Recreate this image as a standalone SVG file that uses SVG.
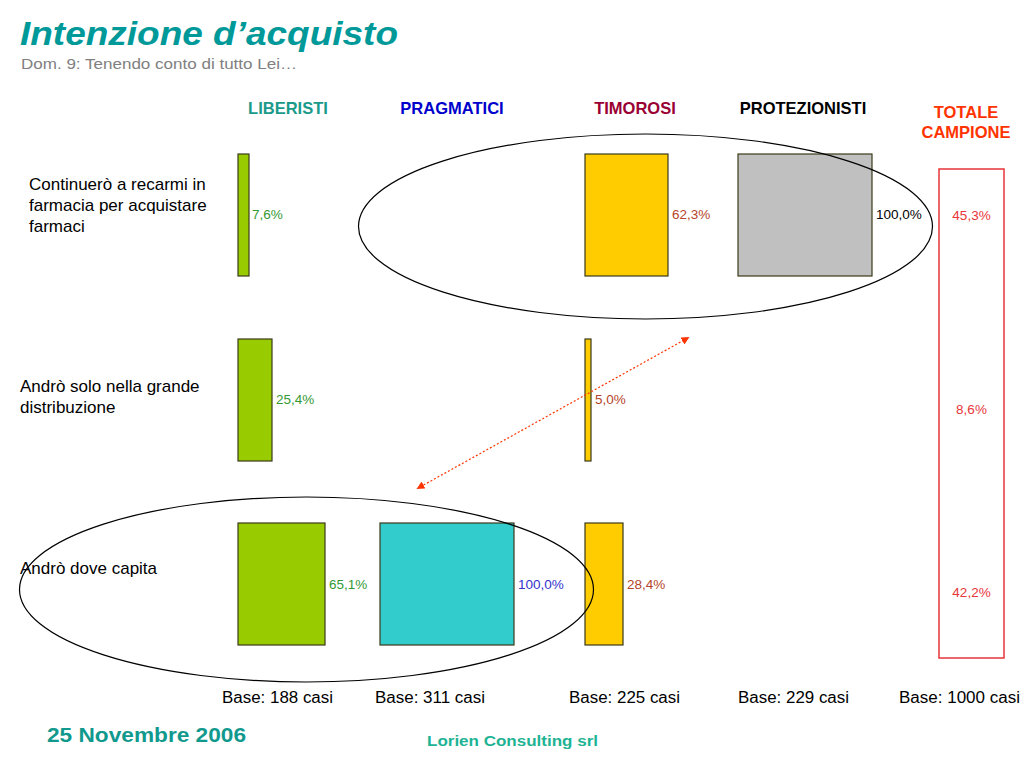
<svg xmlns="http://www.w3.org/2000/svg" width="1024" height="768" viewBox="0 0 1024 768">
<style>
text{font-family:"Liberation Sans",Arial,sans-serif}
.bar{stroke:#3a3a1a;stroke-width:1.2}
.lib{fill:#99CC00}
.tim{fill:#FFCC00}
.pro{fill:#C0C0C0}
.pra{fill:#33CCCC}
.pct{font-size:13.5px}
.row{font-size:17px;fill:#000}
.hdr{font-size:16.5px;font-weight:bold}
.base{font-size:16px;fill:#000}
.ell{fill:none;stroke:#000;stroke-width:1.2}
</style>
<defs>
<marker id="ah" viewBox="0 0 10 10" refX="5" refY="5" markerWidth="8" markerHeight="8" orient="auto-start-reverse" markerUnits="userSpaceOnUse">
<path d="M0,0 L10,5 L0,10 z" fill="#FF3300"/>
</marker>
</defs>
<rect width="1024" height="768" fill="#fff"/>

<g id="title">
<text x="20" y="45" font-size="34" font-weight="bold" font-style="italic" fill="#009999" textLength="378" lengthAdjust="spacingAndGlyphs">Intenzione d’acquisto</text>
<text x="21" y="69" font-size="15" fill="#808080" textLength="276" lengthAdjust="spacingAndGlyphs">Dom. 9: Tenendo conto di tutto Lei…</text>
</g>

<g id="headers">
<text class="hdr" x="288" y="114" text-anchor="middle" fill="#1A9A8A">LIBERISTI</text>
<text class="hdr" x="452" y="114" text-anchor="middle" fill="#0000CC">PRAGMATICI</text>
<text class="hdr" x="635" y="114" text-anchor="middle" fill="#990033">TIMOROSI</text>
<text class="hdr" x="803" y="114" text-anchor="middle" fill="#000">PROTEZIONISTI</text>
<text class="hdr" x="966" y="118" text-anchor="middle" fill="#FF3300">TOTALE</text>
<text class="hdr" x="966" y="138" text-anchor="middle" fill="#FF3300">CAMPIONE</text>
</g>

<g id="row-labels">
<text class="row" x="29" y="190">Continuerò a recarmi in</text>
<text class="row" x="29" y="211">farmacia per acquistare</text>
<text class="row" x="29" y="232">farmaci</text>
<text class="row" x="20" y="392">Andrò solo nella grande</text>
<text class="row" x="20" y="413">distribuzione</text>
<text class="row" x="20" y="574">Andrò dove capita</text>
</g>

<g id="row1">
<rect class="bar lib" x="238" y="154" width="11" height="122"/>
<text class="pct" x="252" y="219" fill="#339933">7,6%</text>
<rect class="bar tim" x="585" y="154" width="83" height="122"/>
<text class="pct" x="672" y="219" fill="#B5452A">62,3%</text>
<rect class="bar pro" x="738" y="154" width="134" height="122"/>
<text class="pct" x="876" y="219" fill="#000">100,0%</text>
</g>

<g id="row2">
<rect class="bar lib" x="238" y="339" width="34" height="122"/>
<text class="pct" x="276" y="404" fill="#339933">25,4%</text>
<rect class="bar tim" x="585" y="339" width="6" height="122"/>
<text class="pct" x="595" y="404" fill="#B5452A">5,0%</text>
</g>

<g id="row3">
<rect class="bar lib" x="238" y="523" width="87" height="122"/>
<text class="pct" x="329" y="589" fill="#339933">65,1%</text>
<rect class="bar pra" x="380" y="523" width="134" height="122"/>
<text class="pct" x="518" y="589" fill="#3333CC">100,0%</text>
<rect class="bar tim" x="585" y="523" width="38" height="122"/>
<text class="pct" x="627" y="589" fill="#B5452A">28,4%</text>
</g>

<g id="totale">
<rect x="939" y="169" width="65" height="489" fill="none" stroke="#E8363A" stroke-width="1.5"/>
<text class="pct" x="971.5" y="220" text-anchor="middle" fill="#E8363A" font-size="14">45,3%</text>
<text class="pct" x="971.5" y="414" text-anchor="middle" fill="#E8363A" font-size="14">8,6%</text>
<text class="pct" x="971.5" y="597" text-anchor="middle" fill="#E8363A" font-size="14">42,2%</text>
</g>

<g id="connectors">
<ellipse class="ell" cx="645.5" cy="226.5" rx="287" ry="92.5"/>
<ellipse class="ell" cx="306.5" cy="589.5" rx="287" ry="92.5"/>
<line x1="420" y1="487" x2="686" y2="339" stroke="#FF3300" stroke-width="1.2" stroke-dasharray="2,2" marker-start="url(#ah)" marker-end="url(#ah)"/>
</g>

<g id="bases">
<text class="base" x="222" y="703" textLength="111" lengthAdjust="spacingAndGlyphs">Base: 188 casi</text>
<text class="base" x="375" y="703" textLength="110" lengthAdjust="spacingAndGlyphs">Base: 311 casi</text>
<text class="base" x="569" y="703" textLength="111" lengthAdjust="spacingAndGlyphs">Base: 225 casi</text>
<text class="base" x="738" y="703" textLength="111" lengthAdjust="spacingAndGlyphs">Base: 229 casi</text>
<text class="base" x="899" y="703" textLength="121" lengthAdjust="spacingAndGlyphs">Base: 1000 casi</text>
</g>

<g id="footer">
<text x="47" y="742" font-size="21" font-weight="bold" fill="#11998E" textLength="199" lengthAdjust="spacingAndGlyphs">25 Novembre 2006</text>
<text x="427" y="746" font-size="14" font-weight="bold" fill="#1DB394" textLength="171" lengthAdjust="spacingAndGlyphs">Lorien Consulting srl</text>
</g>
</svg>
